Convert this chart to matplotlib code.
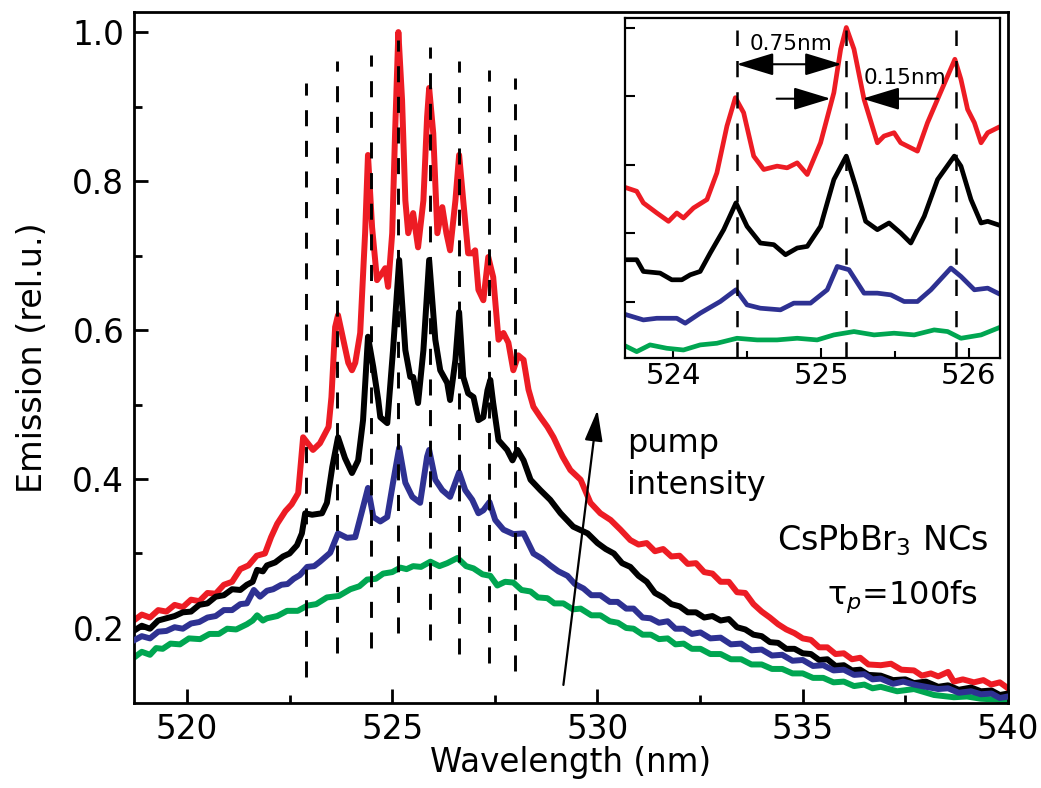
import matplotlib
matplotlib.use("Agg")
import matplotlib.pyplot as plt
from matplotlib.ticker import MultipleLocator, FixedLocator

# ---------------- data (main panel) ----------------
red_x = [518.73, 518.90, 519.10, 519.30, 519.50, 519.70, 519.90, 520.10, 520.30, 520.50,
         520.70, 520.90, 521.10, 521.30, 521.50, 521.70, 521.90, 522.05, 522.20, 522.40,
         522.55, 522.71, 522.83, 523.07, 523.24, 523.45, 523.52, 523.61, 523.68, 523.93,
         524.02, 524.10, 524.22, 524.34, 524.41, 524.51, 524.63, 524.76, 524.83, 524.90,
         525.00, 525.07, 525.15, 525.24, 525.32, 525.39, 525.51, 525.63, 525.76, 525.85,
         525.90, 526.00, 526.10, 526.22, 526.32, 526.41, 526.54, 526.63, 526.73, 526.85,
         526.95, 527.02, 527.10, 527.22, 527.34, 527.46, 527.59, 527.71, 527.83, 527.95,
         528.07, 528.20, 528.32, 528.44, 528.61, 528.78, 528.93, 529.15, 529.34, 529.59,
         529.83, 530.07, 530.32, 530.56, 530.80, 531.00, 531.20, 531.40, 531.60, 531.80,
         532.00, 532.20, 532.40, 532.60, 532.80, 533.00, 533.20, 533.40, 533.60, 533.80,
         534.00, 534.20, 534.40, 534.60, 534.80, 535.00, 535.20, 535.40, 535.60, 535.80,
         536.00, 536.20, 536.40, 536.60, 536.90, 537.15, 537.40, 537.71, 537.90, 538.12,
         538.30, 538.54, 538.68, 538.90, 539.17, 539.40, 539.59, 539.80, 540.00]
red_y = [0.211, 0.218, 0.214, 0.224, 0.222, 0.231, 0.228, 0.238, 0.236, 0.247,
         0.246, 0.258, 0.262, 0.279, 0.284, 0.297, 0.300, 0.322, 0.340, 0.357,
         0.366, 0.381, 0.456, 0.439, 0.448, 0.470, 0.510, 0.604, 0.620, 0.556,
         0.546, 0.556, 0.596, 0.730, 0.835, 0.738, 0.667, 0.677, 0.683, 0.658,
         0.730, 0.864, 1.000, 0.909, 0.774, 0.730, 0.757, 0.711, 0.774, 0.886,
         0.925, 0.864, 0.730, 0.765, 0.730, 0.707, 0.774, 0.835, 0.774, 0.703,
         0.703, 0.707, 0.654, 0.640, 0.698, 0.671, 0.587, 0.596, 0.583, 0.546,
         0.566, 0.560, 0.520, 0.497, 0.483, 0.470, 0.456, 0.430, 0.412, 0.399,
         0.368, 0.354, 0.345, 0.332, 0.318, 0.312, 0.314, 0.303, 0.306, 0.296,
         0.297, 0.286, 0.287, 0.275, 0.273, 0.262, 0.262, 0.248, 0.247, 0.232,
         0.222, 0.214, 0.205, 0.198, 0.193, 0.186, 0.184, 0.174, 0.174, 0.165,
         0.166, 0.158, 0.160, 0.151, 0.150, 0.152, 0.144, 0.143, 0.136, 0.139,
         0.135, 0.141, 0.128, 0.131, 0.127, 0.130, 0.124, 0.127, 0.119]

black_x = [518.73, 518.90, 519.10, 519.30, 519.50, 519.70, 519.90, 520.10, 520.30, 520.50,
           520.70, 520.90, 521.10, 521.30, 521.46, 521.60, 521.71, 521.85, 521.95, 522.15,
           522.34, 522.50, 522.68, 522.80, 522.88, 523.05, 523.29, 523.41, 523.54, 523.68,
           523.85, 524.02, 524.17, 524.29, 524.41, 524.54, 524.66, 524.71, 524.88, 525.02,
           525.17, 525.32, 525.44, 525.51, 525.63, 525.76, 525.90, 526.05, 526.17, 526.34,
           526.41, 526.54, 526.63, 526.73, 526.85, 526.98, 527.10, 527.22, 527.32, 527.39,
           527.46, 527.59, 527.80, 527.93, 528.05, 528.20, 528.37, 528.61, 528.85, 529.10,
           529.41, 529.76, 530.00, 530.20, 530.40, 530.60, 530.80, 531.00, 531.20, 531.40,
           531.60, 531.80, 532.00, 532.20, 532.40, 532.60, 532.80, 533.00, 533.20, 533.40,
           533.60, 533.80, 534.00, 534.20, 534.40, 534.60, 534.80, 535.00, 535.20, 535.40,
           535.60, 535.80, 536.00, 536.20, 536.40, 536.60, 536.90, 537.20, 537.50, 537.71,
           538.00, 538.30, 538.54, 538.80, 539.10, 539.34, 539.60, 539.80, 540.00]
black_y = [0.197, 0.203, 0.199, 0.210, 0.213, 0.216, 0.221, 0.222, 0.231, 0.233,
           0.242, 0.244, 0.252, 0.251, 0.258, 0.262, 0.278, 0.276, 0.284, 0.288,
           0.296, 0.300, 0.311, 0.327, 0.354, 0.352, 0.354, 0.368, 0.416, 0.456,
           0.428, 0.408, 0.425, 0.479, 0.591, 0.550, 0.506, 0.483, 0.475, 0.573,
           0.694, 0.573, 0.537, 0.537, 0.502, 0.573, 0.694, 0.587, 0.546, 0.529,
           0.506, 0.560, 0.624, 0.537, 0.515, 0.510, 0.479, 0.483, 0.519, 0.533,
           0.502, 0.452, 0.439, 0.425, 0.439, 0.425, 0.399, 0.385, 0.372, 0.354,
           0.336, 0.327, 0.314, 0.306, 0.300, 0.287, 0.282, 0.270, 0.262, 0.247,
           0.241, 0.232, 0.229, 0.221, 0.221, 0.214, 0.216, 0.210, 0.212, 0.201,
           0.198, 0.191, 0.189, 0.181, 0.180, 0.172, 0.172, 0.166, 0.165, 0.157,
           0.158, 0.149, 0.150, 0.143, 0.144, 0.137, 0.136, 0.130, 0.131, 0.126,
           0.128, 0.121, 0.123, 0.117, 0.120, 0.115, 0.116, 0.110, 0.112]

blue_x = [518.73, 518.90, 519.10, 519.30, 519.50, 519.70, 519.90, 520.10, 520.30, 520.50,
          520.70, 520.90, 521.10, 521.30, 521.46, 521.63, 521.78, 521.95, 522.10, 522.30,
          522.45, 522.60, 522.75, 522.93, 523.10, 523.24, 523.49, 523.68, 523.90, 524.10,
          524.27, 524.41, 524.54, 524.71, 524.88, 525.02, 525.17, 525.32, 525.49, 525.68,
          525.85, 525.90, 526.05, 526.22, 526.41, 526.63, 526.78, 526.95, 527.10, 527.22,
          527.37, 527.51, 527.71, 527.95, 528.20, 528.44, 528.65, 528.85, 529.05, 529.27,
          529.45, 529.66, 529.85, 530.07, 530.30, 530.49, 530.70, 530.88, 531.10, 531.29,
          531.50, 531.71, 531.90, 532.10, 532.30, 532.51, 532.75, 533.00, 533.25, 533.50,
          533.75, 534.00, 534.25, 534.50, 534.75, 535.00, 535.25, 535.50, 535.75, 536.00,
          536.25, 536.50, 536.70, 536.90, 537.20, 537.45, 537.71, 538.00, 538.30, 538.54,
          538.80, 539.10, 539.34, 539.60, 539.80, 540.00]
blue_y = [0.184, 0.189, 0.186, 0.195, 0.196, 0.201, 0.199, 0.206, 0.208, 0.214,
          0.216, 0.224, 0.224, 0.232, 0.233, 0.251, 0.242, 0.250, 0.252, 0.258,
          0.259, 0.266, 0.271, 0.282, 0.283, 0.289, 0.301, 0.327, 0.321, 0.322,
          0.358, 0.388, 0.349, 0.343, 0.349, 0.395, 0.442, 0.395, 0.376, 0.368,
          0.430, 0.439, 0.399, 0.385, 0.376, 0.409, 0.385, 0.372, 0.354, 0.358,
          0.369, 0.345, 0.332, 0.326, 0.327, 0.300, 0.293, 0.284, 0.276, 0.270,
          0.259, 0.253, 0.244, 0.244, 0.235, 0.235, 0.226, 0.226, 0.214, 0.213,
          0.207, 0.209, 0.199, 0.199, 0.192, 0.194, 0.186, 0.187, 0.178, 0.179,
          0.170, 0.171, 0.163, 0.164, 0.156, 0.157, 0.149, 0.150, 0.143, 0.144,
          0.137, 0.138, 0.131, 0.132, 0.125, 0.128, 0.124, 0.121, 0.118, 0.119,
          0.113, 0.115, 0.111, 0.112, 0.106, 0.108]

green_x = [518.73, 518.90, 519.10, 519.25, 519.41, 519.60, 519.83, 520.05, 520.32, 520.55,
           520.78, 520.98, 521.20, 521.46, 521.60, 521.71, 521.85, 521.95, 522.20, 522.44,
           522.70, 522.93, 523.15, 523.41, 523.70, 523.98, 524.20, 524.39, 524.60, 524.78,
           525.00, 525.20, 525.35, 525.51, 525.70, 525.93, 526.15, 526.34, 526.59, 526.80,
           526.98, 527.20, 527.39, 527.56, 527.75, 527.95, 528.15, 528.37, 528.55, 528.78,
           528.95, 529.17, 529.40, 529.59, 529.85, 530.07, 530.30, 530.50, 530.70, 530.88,
           531.10, 531.30, 531.50, 531.71, 531.90, 532.10, 532.30, 532.51, 532.75, 533.00,
           533.25, 533.50, 533.75, 534.00, 534.25, 534.50, 534.75, 535.00, 535.25, 535.50,
           535.75, 536.00, 536.25, 536.50, 536.70, 536.90, 537.30, 537.71, 538.20, 538.68,
           539.00, 539.34, 539.70, 540.00]
green_y = [0.161, 0.168, 0.164, 0.173, 0.172, 0.179, 0.178, 0.186, 0.185, 0.192,
           0.192, 0.199, 0.198, 0.205, 0.210, 0.217, 0.210, 0.213, 0.216, 0.223,
           0.223, 0.230, 0.232, 0.241, 0.243, 0.252, 0.256, 0.265, 0.266, 0.273,
           0.275, 0.281, 0.279, 0.283, 0.282, 0.289, 0.283, 0.287, 0.294, 0.283,
           0.280, 0.272, 0.270, 0.257, 0.262, 0.261, 0.251, 0.249, 0.241, 0.240,
           0.233, 0.233, 0.225, 0.226, 0.217, 0.217, 0.209, 0.207, 0.200, 0.199,
           0.191, 0.191, 0.185, 0.186, 0.178, 0.179, 0.172, 0.172, 0.165, 0.165,
           0.158, 0.158, 0.151, 0.151, 0.145, 0.145, 0.139, 0.139, 0.133, 0.133,
           0.127, 0.128, 0.122, 0.124, 0.119, 0.121, 0.115, 0.118, 0.110, 0.107,
           0.108, 0.105, 0.104, 0.101]

# mode positions (dashed lines) and their vertical extents
mode_x = [522.90, 523.65, 524.49, 525.13, 525.92, 526.63, 527.37, 528.00]
mode_top = [0.932, 0.961, 0.969, 0.990, 0.980, 0.961, 0.949, 0.938]
mode_bottom = [0.134, 0.166, 0.173, 0.193, 0.184, 0.165, 0.153, 0.142]

# ---------------- data (inset) ----------------
in_red_x = [523.686, 523.754, 523.799, 523.890, 523.969, 524.025, 524.070, 524.138, 524.229,
            524.296, 524.364, 524.421, 524.477, 524.545, 524.613, 524.703, 524.771, 524.839,
            524.907, 524.997, 525.087, 525.133, 525.171, 525.223, 525.291, 525.381, 525.426,
            525.494, 525.539, 525.652, 525.720, 525.788, 525.905, 525.946, 525.991, 526.037,
            526.082, 526.127, 526.195]
in_red_y = [2.664, 2.615, 2.445, 2.298, 2.176, 2.298, 2.225, 2.371, 2.494,
            2.884, 3.567, 3.982, 3.762, 3.128, 2.933, 2.982, 2.957, 3.030,
            2.860, 3.323, 4.055, 4.690, 5.007, 4.690, 3.958, 3.323, 3.421,
            3.470, 3.323, 3.201, 3.616, 3.958, 4.543, 4.250, 3.811, 3.616,
            3.323, 3.470, 3.543]
in_black_x = [523.686, 523.754, 523.799, 523.912, 523.991, 524.059, 524.116, 524.183, 524.251,
              524.342, 524.425, 524.500, 524.590, 524.681, 524.760, 524.839, 524.907, 524.997,
              525.087, 525.171, 525.234, 525.302, 525.381, 525.460, 525.539, 525.607, 525.698,
              525.788, 525.901, 525.946, 526.014, 526.082, 526.127, 526.195]
in_black_y = [1.615, 1.615, 1.444, 1.420, 1.322, 1.322, 1.395, 1.444, 1.713,
              2.054, 2.445, 2.103, 1.859, 1.835, 1.688, 1.786, 1.810, 2.103,
              2.786, 3.128, 2.689, 2.176, 2.054, 2.152, 2.005, 1.859, 2.250,
              2.786, 3.128, 2.982, 2.494, 2.152, 2.176, 2.127]
in_blue_x = [523.686, 523.799, 523.890, 524.025, 524.082, 524.183, 524.319, 524.425, 524.500,
             524.590, 524.726, 524.816, 524.929, 525.042, 525.110, 525.189, 525.291, 525.381,
             525.472, 525.562, 525.652, 525.743, 525.878, 525.946, 526.037, 526.127, 526.195]
in_blue_y = [0.810, 0.736, 0.760, 0.760, 0.688, 0.834, 1.005, 1.176, 0.956,
             0.907, 0.883, 0.981, 0.981, 1.176, 1.517, 1.469, 1.127, 1.127,
             1.102, 1.005, 1.005, 1.176, 1.493, 1.371, 1.176, 1.200, 1.127]
in_green_x = [523.686, 523.754, 523.844, 523.957, 524.070, 524.183, 524.296, 524.432, 524.568,
              524.703, 524.839, 524.974, 525.087, 525.223, 525.359, 525.494, 525.630, 525.765,
              525.856, 525.946, 526.082, 526.195]
in_green_y = [0.346, 0.273, 0.371, 0.322, 0.297, 0.371, 0.395, 0.468, 0.444,
              0.444, 0.468, 0.444, 0.517, 0.566, 0.517, 0.542, 0.517, 0.590,
              0.566, 0.468, 0.517, 0.615]
in_mode_x = [524.43, 525.17, 525.91]

# ---------------- styling ----------------
RED = "#ED1C24"
BLACK = "#000000"
BLUE = "#2E3192"
GREEN = "#00A651"

plt.rcParams["font.family"] = ["DejaVu Sans"]
plt.rcParams["mathtext.fontset"] = "dejavusans"

fig = plt.figure(figsize=(10.41, 7.88), dpi=100)
ax = fig.add_axes([0.1287, 0.1079, 0.9683 - 0.1287, 0.9848 - 0.1079])

lw_main = 4.3
ax.plot(green_x, green_y, color=GREEN, lw=lw_main, solid_joinstyle="round", zorder=2)
ax.plot(red_x, red_y, color=RED, lw=lw_main, solid_joinstyle="round", zorder=2)
ax.plot(black_x, black_y, color=BLACK, lw=lw_main, solid_joinstyle="round", zorder=3)
ax.plot(blue_x, blue_y, color=BLUE, lw=lw_main, solid_joinstyle="round", zorder=3)

for mx, t, b in zip(mode_x, mode_top, mode_bottom):
    ax.plot([mx, mx], [b, t], color="black", lw=2.1, linestyle=(0, (5.5, 5.0)), zorder=4)

ax.set_xlim(518.71, 540.0)
ax.set_ylim(0.0993, 1.027)
ax.xaxis.set_major_locator(MultipleLocator(5))
ax.xaxis.set_minor_locator(MultipleLocator(2.5))
ax.yaxis.set_major_locator(FixedLocator([0.2, 0.4, 0.6, 0.8, 1.0]))
ax.yaxis.set_minor_locator(FixedLocator([0.3, 0.5, 0.7, 0.9]))
ax.set_yticklabels(["0.2", "0.4", "0.6", "0.8", "1.0"])
ax.tick_params(which="both", direction="in", width=2, labelsize=23.5, top=False, right=False)
ax.tick_params(which="major", length=10, pad=7)
ax.tick_params(which="minor", length=6)
for s in ax.spines.values():
    s.set_linewidth(2)
ax.set_xlabel("Wavelength (nm)", fontsize=23.5, labelpad=0)
ax.set_ylabel("Emission (rel.u.)", fontsize=24, labelpad=17)

# pump intensity arrow
ax.annotate("", xy=(530.0, 0.4926), xytext=(529.17, 0.1235),
            arrowprops=dict(arrowstyle="-|>,head_length=1.9,head_width=0.55",
                            color="black", lw=1.6, shrinkA=0, shrinkB=0), zorder=5)
ax.text(530.73, 0.4195, "pump\nintensity", fontsize=23, ha="left", va="center",
        linespacing=1.45)
ax.text(536.94, 0.318, "CsPbBr$_3$ NCs", fontsize=24, ha="center", va="center")
ax.text(537.44, 0.2416, "τ$_p$=100fs", fontsize=23, ha="center", va="center")

# ---------------- inset ----------------
ins = fig.add_axes([0.6004, 0.5457, 0.9606 - 0.6004, 0.9772 - 0.5457])
lw_in = 3.4
ins.plot(in_red_x, in_red_y, color=RED, lw=lw_in, solid_joinstyle="round")
ins.plot(in_black_x, in_black_y, color=BLACK, lw=lw_in, solid_joinstyle="round")
ins.plot(in_blue_x, in_blue_y, color=BLUE, lw=lw_in, solid_joinstyle="round")
ins.plot(in_green_x, in_green_y, color=GREEN, lw=lw_in, solid_joinstyle="round")
for mx in in_mode_x:
    ins.plot([mx, mx], [0.18, 4.97], color="black", lw=1.8, linestyle=(0, (6.5, 6.0)),
             zorder=4)
ins.set_xlim(523.675, 526.21)
ins.set_ylim(0.18, 5.146)
ins.xaxis.set_major_locator(MultipleLocator(1))
ins.xaxis.set_minor_locator(MultipleLocator(0.5))
ins.yaxis.set_major_locator(MultipleLocator(1))
ins.tick_params(which="both", direction="in", width=1.5, labelsize=21, top=False, right=False)
ins.tick_params(which="major", length=7, pad=3)
ins.tick_params(which="minor", length=5)
ins.tick_params(axis="y", labelleft=False)
for s in ins.spines.values():
    s.set_linewidth(1.6)

astyle = "-|>,head_length=2.3,head_width=0.7"
ins.annotate("", xy=(524.43, 4.47), xytext=(525.14, 4.47),
             arrowprops=dict(arrowstyle="<|-|>,head_length=2.3,head_width=0.7",
                             color="black", lw=1.5, shrinkA=0, shrinkB=0))
ins.annotate("", xy=(525.065, 3.967), xytext=(524.70, 3.967),
             arrowprops=dict(arrowstyle=astyle, color="black", lw=1.5, shrinkA=0, shrinkB=0))
ins.annotate("", xy=(525.28, 3.967), xytext=(525.79, 3.967),
             arrowprops=dict(arrowstyle=astyle, color="black", lw=1.5, shrinkA=0, shrinkB=0))
ins.text(524.52, 4.76, "0.75nm", fontsize=15.5, ha="left", va="center")
ins.text(525.29, 4.275, "0.15nm", fontsize=15.5, ha="left", va="center")

fig.savefig("out.png", dpi=100)
